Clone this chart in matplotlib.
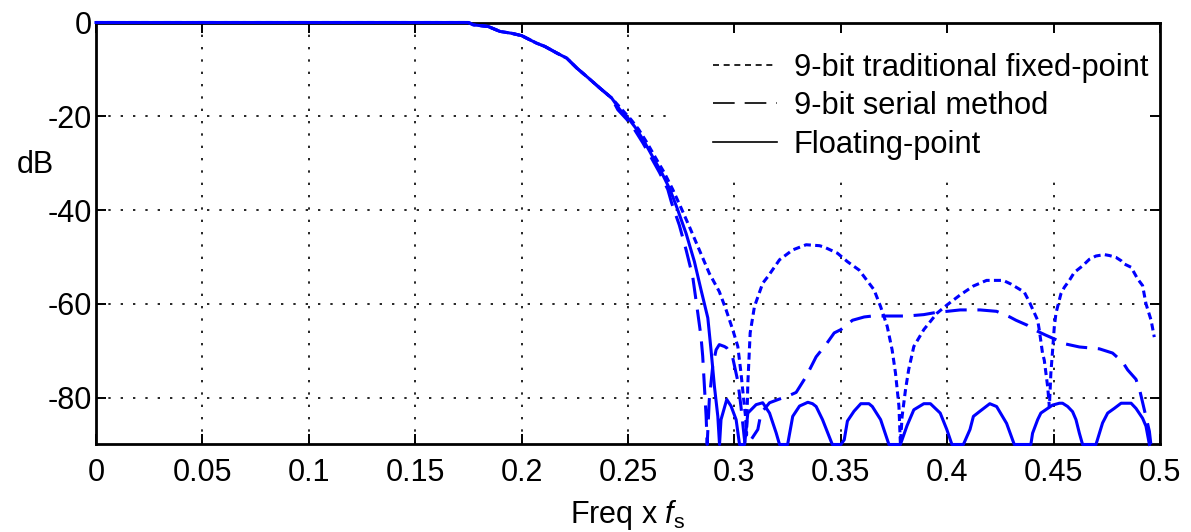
import matplotlib
matplotlib.use("Agg")
import matplotlib.pyplot as plt
from matplotlib.lines import Line2D
from matplotlib.patches import Rectangle

plt.rcParams['font.family'] = ['Liberation Sans', 'DejaVu Sans']
plt.rcParams['mathtext.fontset'] = 'custom'
plt.rcParams['mathtext.rm'] = 'Liberation Sans'
plt.rcParams['mathtext.it'] = 'Liberation Sans:italic'
plt.rcParams['axes.unicode_minus'] = False

# passband, shared by all three responses
pass_f = [0, 0.175, 0.1773, 0.1843, 0.1898, 0.1953, 0.2, 0.207, 0.2109, 0.2165,
          0.2212, 0.2259, 0.2313, 0.2368, 0.2423]
pass_db = [0, 0, -0.5, -0.85, -1.9, -2.3, -2.8, -4.4, -5.1, -6.5,
           -7.6, -9.7, -11.8, -14.0, -16.1]

# 9-bit traditional fixed-point (short dashes)
fixed_f = [0.2472, 0.2514, 0.255, 0.259, 0.263, 0.267, 0.271, 0.2749, 0.2788, 0.2835,
           0.2882, 0.2929, 0.2961, 0.2992, 0.3016, 0.3031, 0.3042, 0.3052, 0.3057,
           0.3063, 0.3074, 0.3094, 0.3133, 0.3157, 0.3212, 0.3274, 0.3337, 0.34, 0.3422,
           0.3484, 0.3531, 0.3586, 0.3656, 0.3687, 0.3718, 0.3741, 0.3757, 0.3773, 0.378,
           0.3788, 0.3804, 0.3819, 0.3843, 0.389, 0.3952, 0.4, 0.4061, 0.4123, 0.4185,
           0.4263, 0.43, 0.4362, 0.4386, 0.4425, 0.4433, 0.4448, 0.4456, 0.4472, 0.448,
           0.4487, 0.4495, 0.4503, 0.4511, 0.4534, 0.455, 0.4574, 0.4597, 0.4636, 0.4668,
           0.4699, 0.4738, 0.4762, 0.4793, 0.4817, 0.4832, 0.4864, 0.4895, 0.4918, 0.4934,
           0.4958, 0.4973]
fixed_db = [-18.6, -20.7, -22.8, -25.7, -28.9, -32.0, -35.6, -39.5, -43.5, -48.5,
            -53.5, -57.4, -61.3, -65.5, -69.1, -74.8, -79.7, -84.0, -88.0,
            -77.0, -66.2, -60.6, -55.6, -54.2, -50.6, -48.5, -47.4, -47.6, -47.9,
            -49.2, -51.0, -52.8, -57.0, -60.6, -64.8, -69.8, -74.8, -81.8, -90.0,
            -84.0, -78.3, -74.0, -69.1, -65.5, -62.0, -60.2, -58.1, -56.2, -55.0,
            -55.0, -55.8, -57.5, -59.6, -63.5, -65.7, -70.6, -72.0, -77.7, -82.0,
            -74.8, -70.0, -65.0, -62.0, -57.9, -56.5, -55.0, -53.3, -51.9, -50.5,
            -49.8, -49.5, -49.7, -50.1, -50.8, -51.5, -52.2, -54.7, -56.1, -60.0,
            -63.5, -67.1]

# 9-bit serial method (long dashes)
serial_f = [0.2452, 0.2495, 0.253, 0.257, 0.261, 0.2648, 0.2687, 0.2705, 0.2741, 0.2773,
            0.2804, 0.2828, 0.2843, 0.2851, 0.2859, 0.2867, 0.2872,
            0.2882, 0.2898, 0.2914, 0.2929, 0.2953, 0.2964, 0.2992, 0.3016, 0.3031, 0.3045,
            0.305, 0.3078, 0.311, 0.3125, 0.3165, 0.3212, 0.325, 0.329, 0.3337, 0.3384,
            0.343, 0.3469, 0.35, 0.3555, 0.361, 0.3648, 0.3718, 0.3812, 0.389, 0.3952,
            0.4, 0.4061, 0.4154, 0.4232, 0.4294, 0.4323, 0.4378, 0.4417, 0.4464, 0.4519,
            0.455, 0.4621, 0.4715, 0.4777, 0.4824, 0.4848, 0.4887, 0.4906, 0.495, 0.4957]
serial_db = [-18.6, -20.7, -22.8, -25.7, -28.9, -32.0, -35.6, -38.5, -43.2, -48.5,
             -54.2, -62.0, -67.0, -71.2, -77.6, -84.0, -90.0,
             -80.4, -73.3, -69.8, -68.7, -69.1, -69.4, -71.5, -76.5, -82.0, -88.0,
             -90.0, -89.0, -86.8, -83.3, -81.1, -80.3, -79.7, -78.9, -75.5, -71.3,
             -68.7, -66.2, -65.5, -63.5, -62.8, -62.6, -62.6, -62.6, -62.3, -61.8,
             -61.6, -61.3, -61.3, -61.6, -62.8, -63.5, -64.6, -65.7, -66.7, -67.8,
             -68.5, -69.2, -69.6, -70.5, -72.4, -74.1, -76.1, -78.7, -87.2, -90.0]

# floating-point (solid)
float_f = [0.2462, 0.2506, 0.2541, 0.258, 0.2619, 0.2658, 0.2697, 0.273, 0.2773, 0.2812,
           0.2843, 0.2875, 0.289, 0.2906, 0.2922, 0.293,
           0.2937, 0.2964, 0.2984, 0.3008, 0.3024, 0.3048,
           0.3063, 0.3102, 0.3133, 0.3165, 0.3196, 0.3212, 0.325,
           0.3274, 0.3306, 0.3345, 0.3367, 0.3384, 0.3414, 0.346, 0.35,
           0.3516, 0.3531, 0.3562, 0.3594, 0.3632, 0.3648, 0.3687, 0.3726, 0.378,
           0.3811, 0.3843, 0.389, 0.3921, 0.3967, 0.3998, 0.4022, 0.4076,
           0.4107, 0.4123, 0.4154, 0.42, 0.4232, 0.4279, 0.4315, 0.4393,
           0.4401, 0.4425, 0.444, 0.4472, 0.4495, 0.4527, 0.4542, 0.4566, 0.4589, 0.4605,
           0.4621, 0.4636, 0.4699,
           0.473, 0.4754, 0.4785, 0.4817, 0.4864, 0.4887, 0.4918, 0.4934, 0.495]
float_db = [-18.6, -20.7, -22.8, -25.7, -28.9, -32.0, -35.6, -39.5, -45.0, -51.0,
            -57.0, -63.0, -69.8, -77.6, -84.0, -90.0,
            -84.7, -80.4, -81.8, -84.7, -90.0, -90.0,
            -83.3, -81.5, -81.1, -83.3, -87.5, -90.0, -90.0,
            -84.0, -81.8, -81.0, -81.3, -81.9, -84.7, -90.0, -90.0,
            -89.0, -85.0, -82.9, -81.3, -81.3, -81.9, -84.7, -90.0, -90.0,
            -86.0, -82.6, -81.3, -81.3, -83.3, -86.8, -90.0, -90.0,
            -86.8, -84.0, -82.9, -81.3, -81.9, -85.5, -90.0, -90.0,
            -87.6, -84.7, -83.3, -82.3, -81.6, -81.2, -81.2, -81.9, -83.0, -84.7,
            -87.6, -90.0, -90.0,
            -85.4, -83.3, -82.3, -81.2, -81.2, -82.3, -84.4, -86.1, -90.0]

xticks = [0, 0.05, 0.1, 0.15, 0.2, 0.25, 0.3, 0.35, 0.4, 0.45, 0.5]
xtick_labels = ['0', '0.05', '0.1', '0.15', '0.2', '0.25', '0.3', '0.35', '0.4', '0.45', '0.5']
yticks = [-80, -60, -40, -20, 0]
ytick_labels = ['-80', '-60', '-40', '-20', '0']
legend_labels = ['9-bit traditional fixed-point', '9-bit serial method', 'Floating-point']

blue = '#0000ff'
dot_grid = (0, (1.4, 6))
short_dash = (0, (2.3, 1.4))
long_dash = (0, (7, 3.5))

fig = plt.figure(figsize=(11.91, 5.32), dpi=100)
ax = fig.add_axes([0.0806, 0.1645, 0.8934, 0.7932])

# grid drawn by hand so the legend patch can hide it without hiding the ticks
for xv in xticks[1:-1]:
    ax.axvline(xv, color='k', lw=1.2, ls=dot_grid, zorder=1)
for yv in yticks[:-1]:
    ax.axhline(yv, color='k', lw=1.2, ls=dot_grid, zorder=1)
ax.add_patch(Rectangle((0.542, 0.6315), 0.46, 0.37, transform=ax.transAxes,
                       facecolor='white', edgecolor='none', zorder=1.5))

# curves sit on top of the box so the 0 dB and -90 dB runs stay blue
ax.plot(pass_f + fixed_f, pass_db + fixed_db, color=blue, lw=2.2, ls=short_dash,
        zorder=3, clip_on=False)
ax.plot(pass_f + serial_f, pass_db + serial_db, color=blue, lw=2.2, ls=long_dash,
        zorder=3, clip_on=False)
ax.plot(pass_f + float_f, pass_db + float_db, color=blue, lw=2.2, zorder=3, clip_on=False)

ax.set_xlim(0, 0.5)
ax.set_ylim(-90, 0)
ax.set_xticks(xticks)
ax.set_xticklabels(xtick_labels)
ax.set_yticks(yticks)
ax.set_yticklabels(ytick_labels)
ax.tick_params(direction='in', top=True, right=True, length=7, width=1.4,
               labelsize=22, colors='k')
ax.tick_params(axis='x', pad=10)
ax.tick_params(axis='y', pad=3)
for sp in ax.spines.values():
    sp.set_linewidth(2.0)

ax.set_xlabel('Freq x $f_\\mathrm{s}$', fontsize=22)
ax.xaxis.set_label_coords(0.5, -0.127)
ax.set_ylabel('dB', fontsize=22, rotation=0, ha='center', va='center')
ax.yaxis.set_label_coords(-0.057, 0.662)

handles = [Line2D([], [], color='k', lw=1.2, ls=(0, (3.6, 2.8))),
           Line2D([], [], color='k', lw=1.2, ls=(0, (13, 6))),
           Line2D([], [], color='k', lw=1.2)]
ax.legend(handles, legend_labels, loc='upper left', bbox_to_anchor=(0.58, 0.928),
          frameon=False, fontsize=22.2, handlelength=2.07, handletextpad=0.55,
          labelspacing=0.27, borderpad=0, borderaxespad=0)

fig.savefig('out.png', dpi=100)
